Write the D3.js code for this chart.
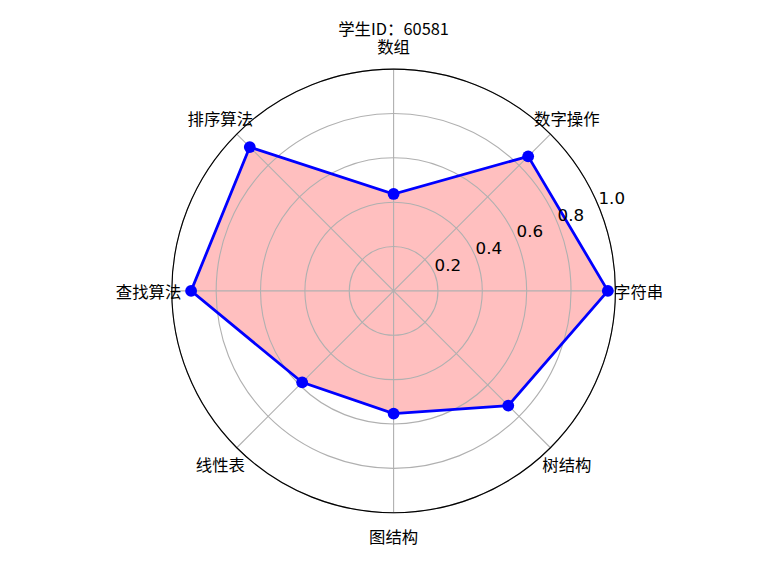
<!DOCTYPE html>
<html>
<head>
<meta charset="utf-8">
<script src="https://cdn.jsdelivr.net/npm/d3@7"></script>
<style>
  body { margin: 0; background: #fff; }
  svg { display: block; }
</style>
</head>
<body>
<div id="chart"></div>
<script>
// Data
var title = '学生ID：60581'
var categories = ['字符串', '数字操作', '数组', '排序算法', '查找算法', '线性表', '图结构', '树结构']
var scores = [0.966, 0.858, 0.437, 0.917, 0.913, 0.583, 0.553, 0.731]
var rTicks = [0.2, 0.4, 0.6, 0.8, 1.0]

// Layout (matplotlib default subplot box on a 768x576 figure)
var width = 768
var height = 576
var cx = 393.6
var cy = 290.9
var radius = 221.8
var labelDist = 245
var rLabelAngle = 22.5 * Math.PI / 180

var cjkFont = '"Noto Sans CJK SC", "DejaVu Sans", sans-serif'
var numFont = '"DejaVu Sans", sans-serif'

var svg = d3.select('#chart').append('svg')
  .attr('width', width)
  .attr('height', height)

var g = svg.append('g')
  .attr('transform', 'translate(' + cx + ',' + cy + ')')

var r = d3.scaleLinear().domain([0, 1]).range([0, radius])

// math angle (from east, counter-clockwise) for each category
var theta = d3.scaleLinear().domain([0, categories.length]).range([0, 2 * Math.PI])

function px(t, rr) { return Math.cos(t) * rr }
function py(t, rr) { return -Math.sin(t) * rr }

// Filled area
var radial = d3.lineRadial()
  .angle(function(d, i){ return Math.PI / 2 - theta(i) })
  .radius(function(d){ return r(d) })
  .curve(d3.curveLinearClosed)

g.append('path')
  .attr('d', radial(scores))
  .attr('fill', 'rgba(255,0,0,0.25)')
  .attr('stroke', 'none')

// Grid: circles
g.selectAll('circle.grid')
  .data(rTicks)
  .enter().append('circle')
  .attr('class', 'grid')
  .attr('r', function(d){ return r(d) })
  .attr('fill', 'none')
  .attr('stroke', '#b0b0b0')
  .attr('stroke-width', 1.1)

// Grid: spokes
g.selectAll('line.spoke')
  .data(categories)
  .enter().append('line')
  .attr('class', 'spoke')
  .attr('x1', 0)
  .attr('y1', 0)
  .attr('x2', function(d, i){ return px(theta(i), radius) })
  .attr('y2', function(d, i){ return py(theta(i), radius) })
  .attr('stroke', '#b0b0b0')
  .attr('stroke-width', 1.1)

// Outline
g.append('path')
  .attr('d', radial(scores))
  .attr('fill', 'none')
  .attr('stroke', '#0000ff')
  .attr('stroke-width', 2.78)
  .attr('stroke-linejoin', 'miter')

// Markers
g.selectAll('circle.pt')
  .data(scores)
  .enter().append('circle')
  .attr('class', 'pt')
  .attr('cx', function(d, i){ return px(theta(i), r(d)) })
  .attr('cy', function(d, i){ return py(theta(i), r(d)) })
  .attr('r', 5.9)
  .attr('fill', '#0000ff')

// Outer spine
g.append('circle')
  .attr('r', radius)
  .attr('fill', 'none')
  .attr('stroke', '#000')
  .attr('stroke-width', 1.1)

// Radial tick labels
g.selectAll('text.rtick')
  .data(rTicks)
  .enter().append('text')
  .attr('class', 'rtick')
  .attr('x', function(d){ return px(rLabelAngle, r(d)) })
  .attr('y', function(d){ return py(rLabelAngle, r(d)) - 2.5 })
  .attr('font-family', numFont)
  .attr('font-size', 16.7)
  .attr('fill', '#000')
  .text(function(d){ return d3.format('.1f')(d) })

// Category labels
g.selectAll('text.cat')
  .data(categories)
  .enter().append('text')
  .attr('class', 'cat')
  .attr('x', function(d, i){ return px(theta(i), labelDist) })
  .attr('y', function(d, i){ return py(theta(i), labelDist) })
  .attr('text-anchor', 'middle')
  .attr('dominant-baseline', 'central')
  .attr('font-family', cjkFont)
  .attr('font-size', 16.4)
  .attr('fill', '#000')
  .text(function(d){ return d })

// Title
svg.append('text')
  .attr('x', cx)
  .attr('y', 27.5)
  .attr('text-anchor', 'middle')
  .attr('dominant-baseline', 'central')
  .attr('font-family', cjkFont)
  .attr('font-size', 16.4)
  .attr('fill', '#000')
  .text(title)
</script>
</body>
</html>
